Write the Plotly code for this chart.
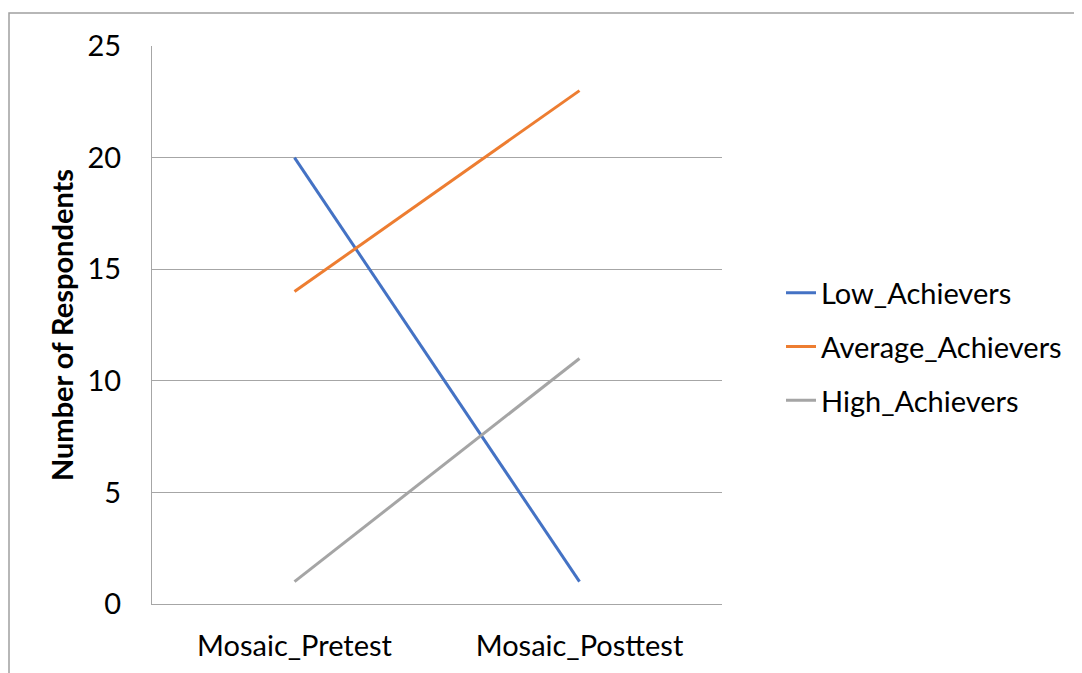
import plotly.graph_objects as go

categories = ["Mosaic_Pretest", "Mosaic_Posttest"]
low_achievers = [20, 1]
average_achievers = [14, 23]
high_achievers = [1, 11]
y_ticks = [0, 5, 10, 15, 20, 25]

# page body has an 8px margin, so the figure is laid out in shifted coords
OFF = 8
W, H = 1082 - OFF, 673 - OFF
L, T = 152 - OFF, 46 - OFF
pw, ph = 570, 558
R, B = W - L - pw, H - T - ph

FONT = "Lato, Calibri, Carlito, sans-serif"

fig = go.Figure()
series = [
    ("Low_Achievers", low_achievers, "#4472C4"),
    ("Average_Achievers", average_achievers, "#ED7D31"),
    ("High_Achievers", high_achievers, "#A5A5A5"),
]
for name, vals, col in series:
    fig.add_trace(go.Scatter(
        x=categories, y=vals, mode="lines", name=name,
        line=dict(color=col, width=3), legendgroup=name,
    ))

def px_x(p):  # screen px -> paper
    return (p - OFF - L) / pw

def px_y(p):
    return (T + ph - (p - OFF)) / ph

fig.add_shape(type="rect", xref="paper", yref="paper",
              x0=px_x(9), x1=px_x(1200), y0=px_y(800), y1=px_y(13),
              line=dict(color="#A0A0A0", width=1.5), fillcolor="rgba(0,0,0,0)", layer="below")

fig.update_layout(
    width=W, height=H,
    margin=dict(l=L, r=R, t=T, b=B),
    paper_bgcolor="white", plot_bgcolor="white",
    font=dict(family=FONT, size=29, color="#000000"),
    showlegend=True,
    legend=dict(x=px_x(781), xanchor="left", y=px_y(347), yanchor="middle",
                font=dict(size=29, family=FONT), tracegroupgap=13,
                bgcolor="rgba(0,0,0,0)"),
    xaxis=dict(type="category", range=[-0.5, 1.5], showgrid=False,
               showline=True, linecolor="#A6A6A6", linewidth=1,
               ticks="", ticklabelstandoff=16, zeroline=False),
    yaxis=dict(range=[0, 25], tickvals=y_ticks, showgrid=True,
               gridcolor="#A6A6A6", gridwidth=1, showline=True,
               linecolor="#A6A6A6", linewidth=1, ticks="",
               ticklabelstandoff=24, zeroline=False,
               title=dict(text="<b>Number of Respondents</b>",
                          font=dict(size=29, family=FONT), standoff=5)),
)

fig.write_html("out.html")
